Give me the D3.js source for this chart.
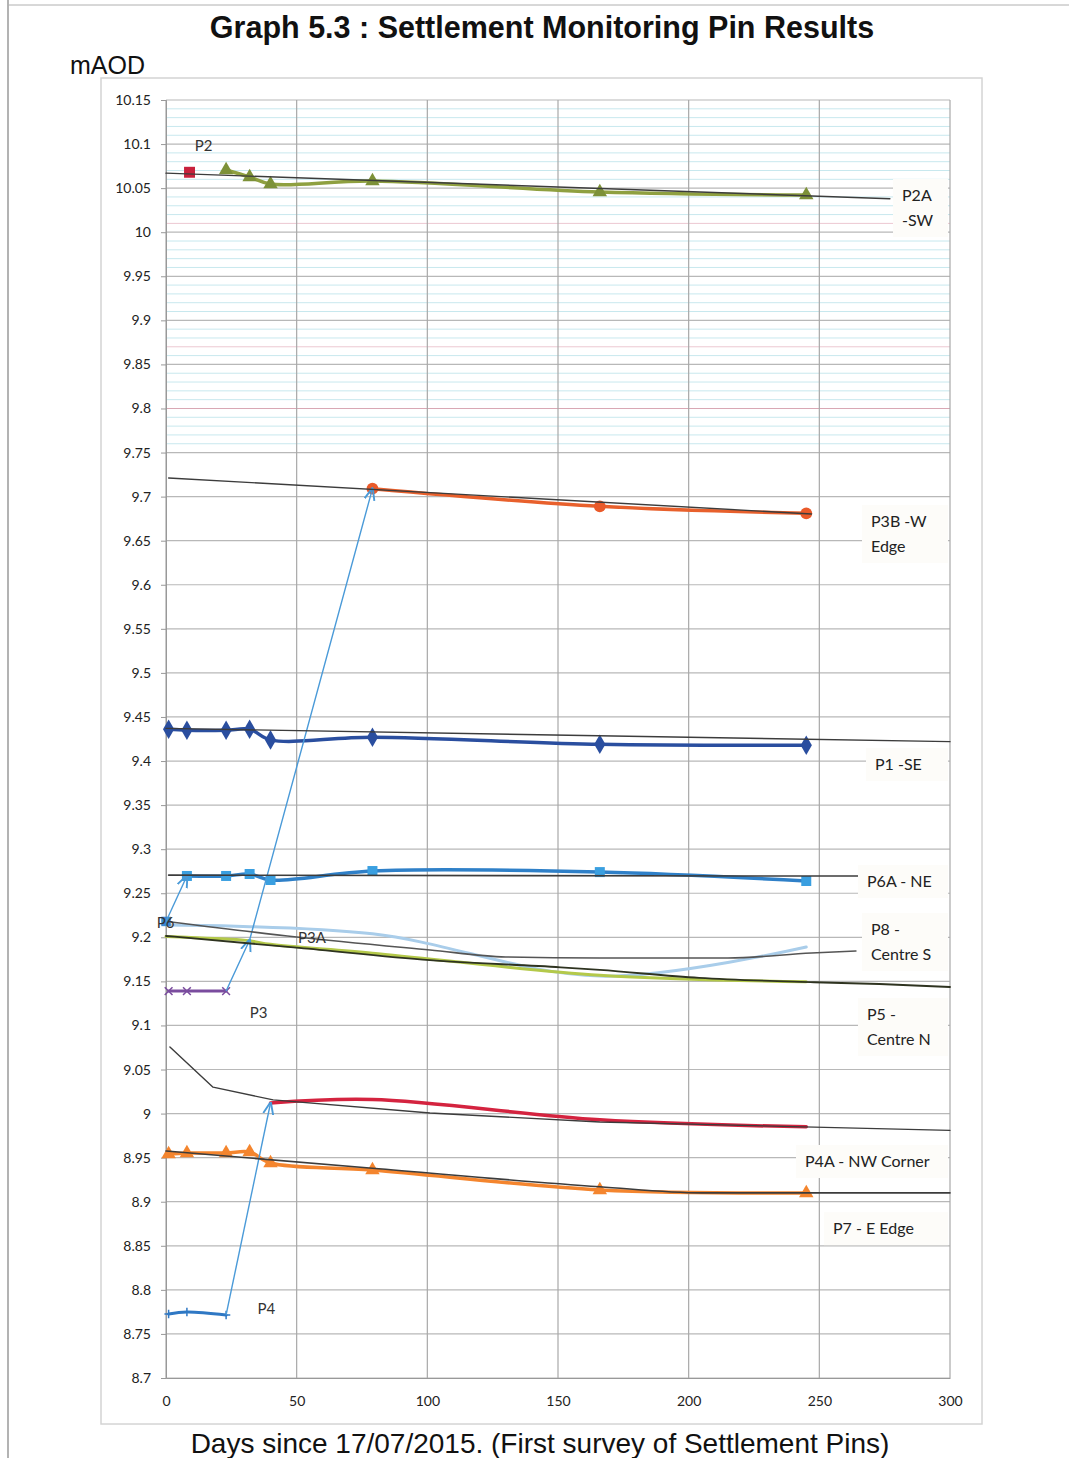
<!DOCTYPE html>
<html><head><meta charset="utf-8">
<script src="https://cdn.jsdelivr.net/npm/d3@7"></script>
<style>body{margin:0;background:#fff} svg{display:block}</style>
</head><body><svg id="c" width="1069" height="1458"></svg>
<script>
// ---------- DATA ----------
const xTicks = [0, 50, 100, 150, 200, 250, 300];
const yTicks = [8.7, 8.75, 8.8, 8.85, 8.9, 8.95, 9, 9.05, 9.1, 9.15, 9.2, 9.25, 9.3, 9.35, 9.4, 9.45, 9.5, 9.55, 9.6, 9.65, 9.7, 9.75, 9.8, 9.85, 9.9, 9.95, 10, 10.05, 10.1, 10.15];

const p2Days = [9];
const p2Vals = [10.068];
const p2aDays = [23, 32, 40, 79, 166, 245];
const p2aVals = [10.0706, 10.0626, 10.0547, 10.0581, 10.0456, 10.0422];
const p2aTrendDays = [0, 277];
const p2aTrendVals = [10.067, 10.038];

const p3bDays = [79, 166, 245];
const p3bVals = [9.709, 9.689, 9.681];
const p3bTrendDays = [1, 247];
const p3bTrendVals = [9.7211, 9.6803];

const p1Days = [1, 8, 23, 32, 40, 79, 166, 245];
const p1Vals = [9.436, 9.435, 9.435, 9.436, 9.424, 9.427, 9.419, 9.418];
const p1TrendDays = [0, 300];
const p1TrendVals = [9.437, 9.422];

const p6Days = [0];
const p6Vals = [9.218];
const p6aDays = [8, 23, 32, 40, 79, 166, 245];
const p6aVals = [9.2696, 9.2696, 9.2718, 9.265, 9.2752, 9.274, 9.2639];
const p6aTrendDays = [1, 265];
const p6aTrendVals = [9.2705, 9.2695];

const p8Days = [0, 79, 166, 245];
const p8Vals = [9.214, 9.204, 9.156, 9.189];
const p8TrendDays = [2, 50, 101, 130, 166, 215, 247, 264];
const p8TrendVals = [9.2174, 9.2003, 9.1856, 9.1777, 9.1765, 9.1765, 9.1822, 9.1845];

const p5Days = [0, 8, 23, 32, 40, 79, 166, 245];
const p5Vals = [9.201, 9.2, 9.198, 9.196, 9.192, 9.182, 9.157, 9.1495];
const p5TrendDays = [0, 51, 101, 151, 166, 204, 248, 273, 300];
const p5TrendVals = [9.2015, 9.188, 9.174, 9.166, 9.163, 9.154, 9.149, 9.147, 9.1436];

const p3Days = [1, 8, 23];
const p3Vals = [9.139, 9.139, 9.139];
const p3aDays = [32];
const p3aVals = [9.197];

const p4Days = [1, 8, 23];
const p4Vals = [8.7726, 8.7749, 8.7715];
const p4aDays = [40, 79, 166, 245];
const p4aVals = [9.012, 9.016, 8.993, 8.985];
const p4aTrendDays = [1.5, 18, 41, 101, 166, 300];
const p4aTrendVals = [9.0755, 9.03, 9.0155, 9.0007, 8.9905, 8.981];

const p7Days = [1, 8, 23, 32, 40, 79, 166, 245];
const p7Vals = [8.954, 8.9553, 8.9553, 8.9564, 8.9439, 8.936, 8.9133, 8.9099];
const p7TrendDays = [0, 79, 166, 205, 300];
const p7TrendVals = [8.9575, 8.938, 8.917, 8.91, 8.91];

// side label texts, with the value level of the first text line
const sideLabels = [
  {lines: ["P2A", "-SW"], v: 10.0422},
  {lines: ["P3B -W", "Edge"], v: 9.6723},
  {lines: ["P1 -SE"], v: 9.3967},
  {lines: ["P6A - NE"], v: 9.2639},
  {lines: ["P8 -", "Centre S"], v: 9.2094},
  {lines: ["P5 -", "Centre N"], v: 9.113},
  {lines: ["P4A - NW Corner"], v: 8.9462},
  {lines: ["P7 - E Edge"], v: 8.870}
];

// ---------- DRAW ----------
const svg = d3.select("#c");
const x = d3.scaleLinear().domain([0, 300]).range([166, 950]);
const y = d3.scaleLinear().domain([8.7, 10.15]).range([1378, 100]);
const zip = (ds, vs) => ds.map((d, i) => [d, vs[i]]);

// page border (scan)
svg.append("line").attr("x1", 8).attr("x2", 8).attr("y1", 0).attr("y2", 1458).attr("stroke", "#9a9a9a").attr("stroke-width", 1.5);
svg.append("line").attr("x1", 8).attr("x2", 1069).attr("y1", 5).attr("y2", 5).attr("stroke", "#b0b0b0").attr("stroke-width", 1);

// chart area border
svg.append("rect").attr("x", 101).attr("y", 78).attr("width", 881).attr("height", 1346)
  .attr("fill", "#fff").attr("stroke", "#d4d4d4").attr("stroke-width", 1.5);

// title etc.
svg.append("text").attr("x", 542).attr("y", 38).attr("text-anchor", "middle")
  .attr("font-family", "Liberation Sans, Arial, sans-serif").attr("font-weight", "bold").attr("font-size", 30.5)
  .attr("fill", "#111").text("Graph 5.3 : Settlement Monitoring Pin Results");
svg.append("text").attr("x", 70).attr("y", 74)
  .attr("font-family", "Liberation Sans, Arial, sans-serif").attr("font-size", 25).attr("fill", "#111").text("mAOD");
svg.append("text").attr("x", 540).attr("y", 1453).attr("text-anchor", "middle")
  .attr("font-family", "Liberation Sans, Arial, sans-serif").attr("font-size", 28).attr("fill", "#111")
  .text("Days since 17/07/2015. (First survey of Settlement Pins)");

// minor cyan lines in upper region
const minor = d3.range(9.76, 10.145, 0.01).filter(v => Math.abs(Math.round(v * 20) - v * 20) > 0.05);
svg.append("g").selectAll("line").data(minor).join("line")
  .attr("x1", x(0)).attr("x2", x(300)).attr("y1", d => y(d)).attr("y2", d => y(d))
  .attr("stroke", (d, i) => (i === 9 || i === 20 ? "#ecc8d2" : "#c8e8ee")).attr("stroke-width", 1);

// major grid
svg.append("g").selectAll("line").data(yTicks).join("line")
  .attr("x1", x(0)).attr("x2", x(300)).attr("y1", d => y(d)).attr("y2", d => y(d))
  .attr("stroke", d => (Math.abs(d - 9.8) < 1e-6 ? "#d9a8b4" : "#b8b8b8")).attr("stroke-width", 1.2);
svg.append("g").selectAll("line").data(xTicks).join("line")
  .attr("x1", d => x(d)).attr("x2", d => x(d)).attr("y1", y(10.15)).attr("y2", y(8.7))
  .attr("stroke", "#a8a8a8").attr("stroke-width", 1.2);

// axes
const fmt = d => String(+d.toFixed(2));
const ya = svg.append("g").attr("transform", `translate(${x(0)},0)`)
  .call(d3.axisLeft(y).tickValues(yTicks).tickFormat(fmt).tickSize(5).tickPadding(10));
const xa = svg.append("g").attr("transform", `translate(0,${y(8.7)})`)
  .call(d3.axisBottom(x).tickValues(xTicks).tickSize(0).tickPadding(18));
[ya, xa].forEach(a => {
  a.select(".domain").attr("stroke", "#999");
  a.selectAll(".tick line").attr("stroke", "#999");
  a.selectAll("text").attr("font-family", "Lato, Carlito, sans-serif").attr("font-size", 14).attr("fill", "#222");
});

// arrow marker
const defs = svg.append("defs");
defs.append("marker").attr("id", "arr").attr("viewBox", "0 0 10 10").attr("refX", 9).attr("refY", 5)
  .attr("markerWidth", 9).attr("markerHeight", 9).attr("orient", "auto-start-reverse")
  .append("path").attr("d", "M0,1 L10,5 L0,9").attr("fill", "none").attr("stroke", "#4a9ad8").attr("stroke-width", 1.5);

const lineG = svg.append("g");
const line = (curve) => d3.line().x(d => x(d[0])).y(d => y(d[1])).curve(curve || d3.curveLinear);

function path(pts, color, width, curve) {
  lineG.append("path").datum(pts).attr("d", line(curve)).attr("fill", "none")
    .attr("stroke", color).attr("stroke-width", width).attr("stroke-linejoin", "round").attr("stroke-linecap", "round");
}
function markers(pts, type, size, fill, stroke) {
  lineG.append("g").selectAll("path").data(pts).join("path")
    .attr("transform", d => `translate(${x(d[0])},${y(d[1])})`)
    .attr("d", d3.symbol().type(type).size(size))
    .attr("fill", fill).attr("stroke", stroke || "none").attr("stroke-width", 1.5);
}
const xSym = { draw(ctx, s) { const r = Math.sqrt(s) / 2; ctx.moveTo(-r, -r); ctx.lineTo(r, r); ctx.moveTo(r, -r); ctx.lineTo(-r, r); } };
const plusSym = { draw(ctx, s) { const r = Math.sqrt(s) / 2; ctx.moveTo(-r, 0); ctx.lineTo(r, 0); ctx.moveTo(0, -r); ctx.lineTo(0, r); } };

const smooth = d3.curveCatmullRom.alpha(0.5);

function connector(pts) {
  lineG.append("path").datum(pts).attr("d", line()).attr("fill", "none")
    .attr("stroke", "#4a9ad8").attr("stroke-width", 1.4)
    .attr("marker-mid", "url(#arr)").attr("marker-end", "url(#arr)");
}

// P8 data (pale blue)
path(zip(p8Days, p8Vals), "#a9cdea", 3, smooth);
// P5 data (yellow green)
path(zip(p5Days, p5Vals), "#b4c94a", 3, smooth);

// P2A
path(zip(p2aDays, p2aVals), "#8fa040", 3.5, smooth);
markers(zip(p2aDays, p2aVals), d3.symbolTriangle, 90, "#7d9138");
// P2
markers(zip(p2Days, p2Vals), d3.symbolSquare, 120, "#c8213c");

// P3B
path(zip(p3bDays, p3bVals), "#e8602c", 3.5, smooth);
markers(zip(p3bDays, p3bVals), d3.symbolCircle, 110, "#ea5a2a");

// P1
path(zip(p1Days, p1Vals), "#2a4e9f", 3.5, smooth);
markers(zip(p1Days, p1Vals), d3.symbolDiamond, 110, "#2a4e9f");

// P6A
path(zip(p6aDays, p6aVals), "#2f80c8", 3.5, smooth);
markers(zip(p6aDays, p6aVals), d3.symbolSquare, 100, "#3a9fe0");
markers(zip(p6Days, p6Vals), d3.symbolSquare, 90, "#3a88d0");

// P3 (purple)
path(zip(p3Days, p3Vals), "#7a4c9e", 3, smooth);
markers(zip(p3Days, p3Vals), xSym, 60, "none", "#7a4c9e");

// P4
path(zip(p4Days, p4Vals), "#2f78c4", 3, smooth);
markers(zip(p4Days, p4Vals), plusSym, 70, "none", "#2f78c4");

// P4A
path(zip(p4aDays, p4aVals), "#d4233f", 3.5, smooth);

// P7
path(zip(p7Days, p7Vals), "#f4852e", 3.5, smooth);
markers(zip(p7Days, p7Vals), d3.symbolTriangle, 90, "#f4852e");

// connectors
connector([[p6Days[0], p6Vals[0]], [p6aDays[0], p6aVals[0]]]);
connector([[p3Days[2], p3Vals[2]], [p3aDays[0], p3aVals[0]], [p3bDays[0], p3bVals[0]]]);
connector([[p4Days[2], p4Vals[2]], [p4aDays[0], p4aVals[0]]]);

// trendlines
const tc = "#3c3c3c";
path(zip(p2aTrendDays, p2aTrendVals), tc, 1.4);
path(zip(p3bTrendDays, p3bTrendVals), tc, 1.4);
path(zip(p1TrendDays, p1TrendVals), tc, 1.4);
path(zip(p6aTrendDays, p6aTrendVals), tc, 1.6);
path(zip(p8TrendDays, p8TrendVals), "#555", 1.6, d3.curveMonotoneX);
path(zip(p5TrendDays, p5TrendVals), "#2e3320", 1.8, d3.curveMonotoneX);
path(zip(p4aTrendDays, p4aTrendVals), tc, 1.4);
path(zip(p7TrendDays, p7TrendVals), tc, 1.6, d3.curveMonotoneX);

// in-plot labels
const lab = (t, px, py) => svg.append("text").attr("x", px).attr("y", py)
  .attr("font-family", "Lato, Carlito, sans-serif").attr("font-size", 15).attr("fill", "#333").text(t);
lab("P2", x(11), y(10.092));
lab("P6", x(-3.5), y(9.211));
lab("P3A", x(50.5), y(9.193));
lab("P3", x(32), y(9.108));
lab("P4", x(35), y(8.773));

// side labels with boxes
const boxes = [
  {x: 893, w: 55}, {x: 862, w: 86}, {x: 866, w: 82}, {x: 858, w: 90},
  {x: 862, w: 86}, {x: 858, w: 90}, {x: 796, w: 152}, {x: 824, w: 124}
];
const sg = svg.append("g");
sideLabels.forEach((s, i) => {
  const b = boxes[i];
  const c1 = y(s.v);
  const top = c1 - 16;
  const h = s.lines.length * 25 + 8;
  sg.append("rect").attr("x", b.x).attr("y", top).attr("width", b.w).attr("height", h).attr("fill", "#fdfcf9");
  s.lines.forEach((t, j) => {
    sg.append("text").attr("x", b.x + 9).attr("y", c1 + 6 + j * 25)
      .attr("font-family", "Lato, Carlito, sans-serif").attr("font-size", 16).attr("fill", "#222").text(t);
  });
});
</script></body></html>
